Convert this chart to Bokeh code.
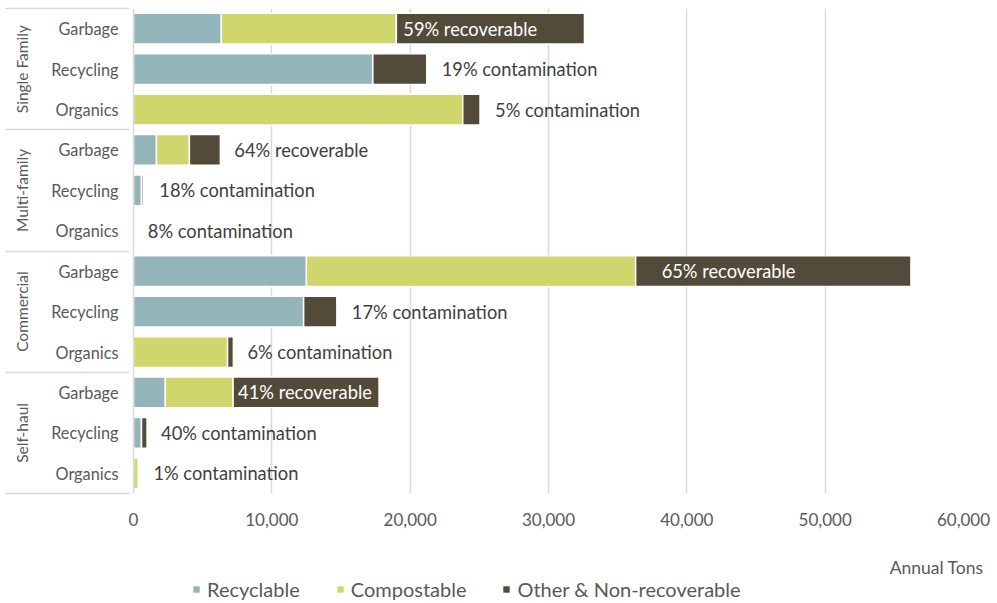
from bokeh.plotting import figure
from bokeh.models import (ColumnDataSource, FixedTicker, LinearAxis, Range1d,
                          Legend, LegendItem, NumeralTickFormatter, Label)
from bokeh.embed import file_html
from bokeh.resources import INLINE
from bokeh.core.properties import value

# ---------------- data ----------------
groups = ["Single Family", "Multi-family", "Commercial", "Self-haul"]
streams = ["Garbage", "Recycling", "Organics"]

# rows listed top -> bottom (group x stream), annual tons
recyclable  = [6350, 17300, 0,     1660, 580, 0,   12500, 12300, 0,    2300, 580, 0]
compostable = [12650, 0,    23800, 2380, 0,   90,  23800, 0,     6800, 4900, 0,   350]
other       = [13600, 3900, 1250,  2240, 130, 8,   19900, 2400,  420,  10550, 400, 4]

bar_labels = ["59% recoverable", "19% contamination", "5% contamination",
              "64% recoverable", "18% contamination", "8% contamination",
              "65% recoverable", "17% contamination", "6% contamination",
              "41% recoverable", "40% contamination", "1% contamination"]
label_inside = [True, False, False, False, False, False,
                True, False, False, True, False, False]
label_offset_px = [7, 15, 15, 14, 16, 13, 26, 15, 14, 5, 14, 15]

x_ticks = [0, 10000, 20000, 30000, 40000, 50000, 60000]
series_names = ["Recyclable", "Compostable", "Other & Non-recoverable"]
series_colors = ["#93B5B9", "#CFD66B", "#524B3A"]
x_title = "Annual Tons"

FONT = "Lato"
GREY = "#595959"
LINE = "#D9D9D9"
W = 997

# ---------------- derived ----------------
n = len(recyclable)
row_stream = [s for g in groups for s in streams]
y = [n - i - 0.5 for i in range(n)]
rc_end = [r + c for r, c in zip(recyclable, compostable)]
total = [e + o for e, o in zip(rc_end, other)]

src = ColumnDataSource(dict(y=y, zero=[0] * n, rec=recyclable, rc_end=rc_end, total=total))

p = figure(width=W, height=535, x_range=Range1d(0, 60000), y_range=Range1d(0, n),
           output_backend="svg", toolbar_location=None,
           min_border_left=133, min_border_right=34, min_border_top=8, min_border_bottom=42)
p.outline_line_color = None

bar_h = 0.76
r_rec = p.hbar(y="y", left="zero", right="rec", height=bar_h, source=src,
               fill_color=series_colors[0], line_color="white", line_width=1.5)
r_comp = p.hbar(y="y", left="rec", right="rc_end", height=bar_h, source=src,
                fill_color=series_colors[1], line_color="white", line_width=1.5)
r_oth = p.hbar(y="y", left="rc_end", right="total", height=bar_h, source=src,
               fill_color=series_colors[2], line_color="white", line_width=1.5)

# bar labels
lsrc = ColumnDataSource(dict(
    x=[rc_end[i] if label_inside[i] else total[i] for i in range(n)],
    y=y,
    text=bar_labels,
    xoff=label_offset_px,
    color=["white" if label_inside[i] else "#404040" for i in range(n)],
))
p.text(x="x", y="y", text="text", x_offset="xoff", text_color="color", source=lsrc,
       text_baseline="middle", text_align="left", text_font=value(FONT), text_font_size="18.3px")

# grid
p.ygrid.visible = False
p.xgrid.ticker = FixedTicker(ticks=x_ticks)
p.xgrid.grid_line_color = LINE
p.xgrid.grid_line_width = 1.5

# x axis
xa = p.xaxis[0]
xa.ticker = FixedTicker(ticks=x_ticks)
xa.formatter = NumeralTickFormatter(format="0,0")
xa.axis_line_color = None
xa.major_tick_line_color = None
xa.minor_tick_line_color = None
xa.major_label_standoff = 13
xa.major_label_text_font = FONT
xa.major_label_text_font_size = "17px"
xa.major_label_text_color = GREY

# y axis (stream labels)
ya = p.yaxis[0]
ya.ticker = FixedTicker(ticks=y)
ya.major_label_overrides = {yy: s for yy, s in zip(y, row_stream)}
ya.axis_line_color = LINE
ya.axis_line_width = 1.5
ya.major_tick_line_color = None
ya.minor_tick_line_color = None
ya.major_tick_out = 0
ya.major_tick_in = 0
ya.major_label_standoff = 15
ya.major_label_text_font = FONT
ya.major_label_text_font_size = "16.3px"
ya.major_label_text_color = GREY

# group labels
gy = [n - 3 * k - 1.5 for k in range(len(groups))]
ga = LinearAxis(ticker=FixedTicker(ticks=gy), major_label_overrides=dict(zip(gy, groups)),
                major_label_orientation="parallel")
ga.axis_line_color = None
ga.major_tick_line_color = None
ga.minor_tick_line_color = None
ga.major_tick_out = 0
ga.major_tick_in = 0
ga.major_label_standoff = 18
ga.major_label_text_font = FONT
ga.major_label_text_font_size = "15.5px"
ga.major_label_text_color = GREY
p.add_layout(ga, "left")

# group separators (outermost axis, ticks reaching in to the plot)
sep = [3 * k for k in range(len(groups) + 1)]
sa = LinearAxis(ticker=FixedTicker(ticks=sep), major_label_overrides={s: "" for s in sep})
sa.axis_line_color = None
sa.minor_tick_line_color = None
sa.major_tick_line_color = LINE
sa.major_tick_line_width = 1.5
sa.major_tick_in = 120
sa.major_tick_out = 4
sa.major_label_standoff = 0
sa.major_label_text_font_size = "1px"
p.add_layout(sa, "left")

# ---------------- footer: axis title + legend (separate root, pixel coordinates) ----------------
FH = 66
p2 = figure(width=W, height=FH, x_range=Range1d(0, W), y_range=Range1d(0, FH),
            output_backend="svg", toolbar_location=None,
            x_axis_location=None, y_axis_location=None, min_border=0)
p2.xgrid.visible = False
p2.ygrid.visible = False
p2.outline_line_color = None

# key swatches: renderers whose only row lies outside the visible range
key_src = ColumnDataSource(dict(y=[-100], left=[0], right=[1]))
key_renderers = [p2.hbar(y="y", left="left", right="right", height=1, source=key_src,
                         fill_color=c, line_color=None) for c in series_colors]

p2.add_layout(Label(x=983, y=34, text=x_title, text_align="right", text_baseline="middle",
                    text_font=FONT, text_font_size="17.5px", text_color=GREY))

legend = Legend(items=[LegendItem(label=nm, renderers=[r]) for nm, r in zip(series_names, key_renderers)],
                orientation="horizontal", location=(192, 0),
                glyph_width=8, glyph_height=8, label_standoff=7, spacing=36,
                label_text_font=FONT, label_text_font_size="20px", label_text_color=GREY,
                border_line_color=None, background_fill_alpha=0, padding=0, margin=0)
p2.add_layout(legend)

open("out.html", "w").write(file_html([p, p2], INLINE))
